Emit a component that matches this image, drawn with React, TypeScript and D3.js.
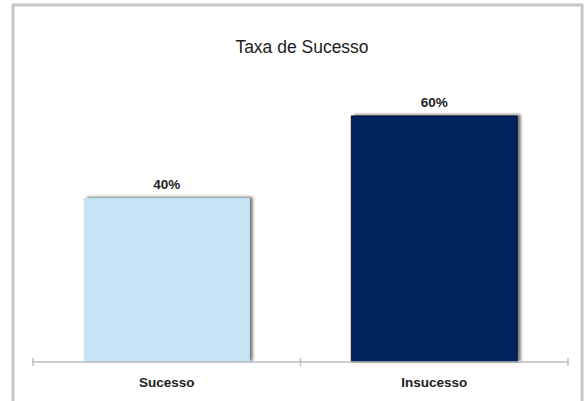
import React from "react";
import * as d3 from "d3";

const categories = ["Sucesso", "Insucesso"];
const values = [0.4, 0.6];
const valueLabels = ["40%", "60%"];
const colors = ["#C3E4F4", "#00205E"];
const title = "Taxa de Sucesso";

const W = 587;
const H = 401;

export default function App() {
  const x = d3
    .scaleBand<string>()
    .domain(categories)
    .range([33, 568])
    .paddingInner(0.38)
    .paddingOuter(0.19);
  const y = d3.scaleLinear().domain([0, 0.6]).range([362, 116]);
  const axisY = y(0);
  const ticks = [33, ...categories.slice(1).map((c) => (x(c)! - (x.step() * x.paddingInner()) / 2)), 568];

  return (
    <svg
      width={W}
      height={H}
      style={{ position: "absolute", left: 0, top: 0, background: "#fff" }}
      fontFamily="'Liberation Sans', Arial, sans-serif"
    >
      <defs>
        <filter id="shadow" x="-10%" y="-10%" width="125%" height="125%">
          <feGaussianBlur in="SourceAlpha" stdDeviation="1.6" />
          <feOffset dx="2.5" dy="-1" result="off" />
          <feComponentTransfer>
            <feFuncA type="linear" slope="0.55" />
          </feComponentTransfer>
          <feMerge>
            <feMergeNode />
            <feMergeNode in="SourceGraphic" />
          </feMerge>
        </filter>
      </defs>
      <rect x={13} y={5} width={569} height={H} fill="#fff" stroke="#c6c6c6" strokeWidth={3} />
      <text x={302} y={53} textAnchor="middle" fontSize={17.5} fill="#222" transform="translate(302,53) scale(1,1.08) translate(-302,-53)">
        {title}
      </text>
      {categories.map((c, i) => (
        <g key={c}>
          <rect
            x={x(c)}
            y={y(values[i])}
            width={x.bandwidth()}
            height={axisY - y(values[i])}
            fill={colors[i]}
            stroke={i === 1 ? "#0a1230" : "none"}
            strokeWidth={1}
            filter="url(#shadow)"
          />
          <text
            x={x(c)! + x.bandwidth() / 2}
            y={y(values[i]) - 9}
            textAnchor="middle"
            fontSize={13.5}
            fontWeight="bold"
            fill="#222"
          >
            {valueLabels[i]}
          </text>
          <text
            x={x(c)! + x.bandwidth() / 2}
            y={387}
            textAnchor="middle"
            fontSize={13.5}
            fontWeight="bold"
            fill="#222"
          >
            {c}
          </text>
        </g>
      ))}
      <line x1={33} x2={568} y1={axisY} y2={axisY} stroke="#bdbdbd" strokeWidth={1.5} />
      {ticks.map((t, i) => (
        <line key={i} x1={t} x2={t} y1={axisY - 4} y2={axisY + 4} stroke="#bdbdbd" strokeWidth={1.5} />
      ))}
    </svg>
  );
}
